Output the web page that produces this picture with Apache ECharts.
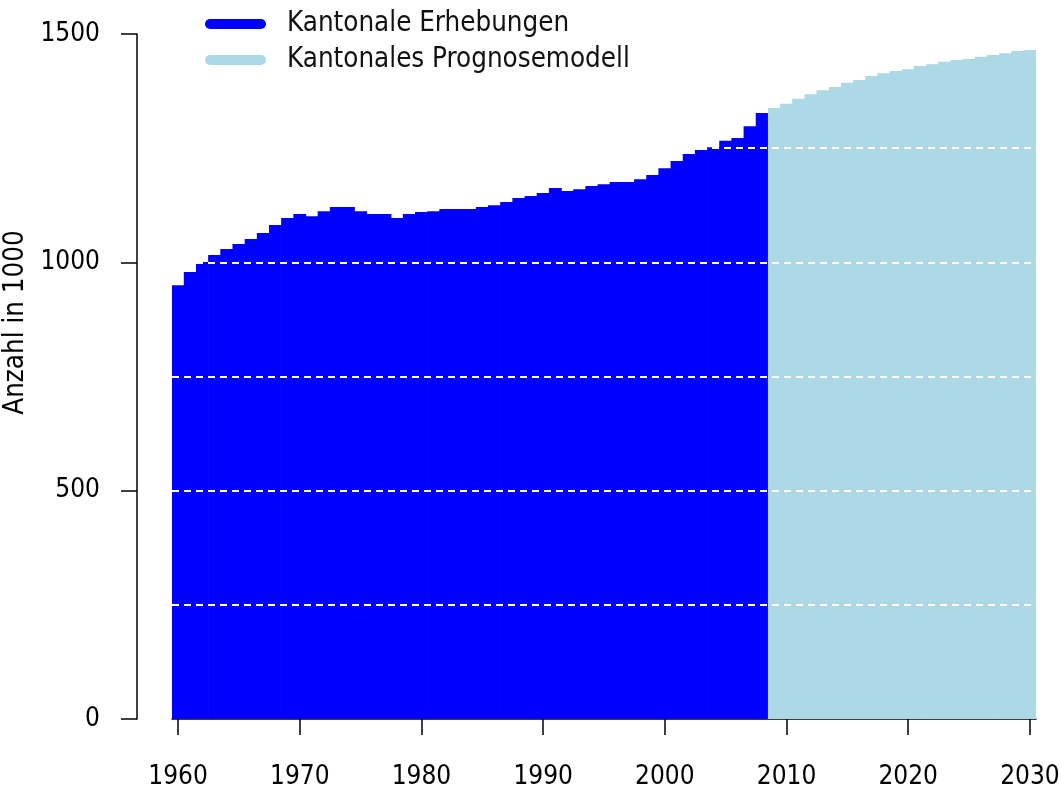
<!DOCTYPE html>
<html>
<head>
    <meta charset="utf-8" />
    <script src="https://cdn.jsdelivr.net/npm/echarts@6/dist/echarts.min.js"></script>
    <style>
        html, body { margin: 0; padding: 0; background: #fff; }
        #chart { width: 1061px; height: 790px; }
    </style>
</head>
<body>
<div id="chart"></div>
<script type="text/javascript">
    // Jahre (Kategorien)
    var years = ['1960', '1961', '1962', '1963', '1964', '1965', '1966', '1967', '1968', '1969',
        '1970', '1971', '1972', '1973', '1974', '1975', '1976', '1977', '1978', '1979',
        '1980', '1981', '1982', '1983', '1984', '1985', '1986', '1987', '1988', '1989',
        '1990', '1991', '1992', '1993', '1994', '1995', '1996', '1997', '1998', '1999',
        '2000', '2001', '2002', '2003', '2004', '2005', '2006', '2007', '2008', '2009',
        '2010', '2011', '2012', '2013', '2014', '2015', '2016', '2017', '2018', '2019',
        '2020', '2021', '2022', '2023', '2024', '2025', '2026', '2027', '2028', '2029', '2030'];

    // Kantonale Erhebungen 1960-2008 (in 1000)
    var erhebungen = [950, 979, 1001, 1016, 1029, 1040, 1051, 1064, 1082, 1097,
        1106, 1101, 1112, 1121, 1121, 1112, 1106, 1106, 1097, 1106,
        1110, 1112, 1117, 1117, 1117, 1121, 1125, 1132, 1141, 1145,
        1152, 1163, 1156, 1160, 1167, 1171, 1176, 1176, 1182, 1191,
        1206, 1222, 1237, 1246, 1252, 1266, 1272, 1298, 1327];

    // Kantonales Prognosemodell 2009-2030 (in 1000)
    var prognose = [1338, 1347, 1358, 1368, 1377, 1384, 1393, 1399, 1408, 1414,
        1419, 1423, 1430, 1434, 1439, 1443, 1445, 1450, 1454, 1458, 1463, 1465];

    var yTicks = [0, 500, 1000, 1500];
    var dashedLevels = [250, 500, 750, 1000, 1250];

    var names = ['Kantonale Erhebungen', 'Kantonales Prognosemodell'];

    // daten auf die ganze jahresachse legen
    var dataErh = [];
    var dataProg = [];
    for (var i = 0; i < years.length; i++) {
        dataErh.push(i < erhebungen.length ? erhebungen[i] : '-');
        dataProg.push(i >= erhebungen.length ? prognose[i - erhebungen.length] : '-');
    }

    var fontName = '"DejaVu Sans Condensed", "DejaVu Sans"';
    var capsule = 'path://M5,0 L56,0 A5,5 0 0 1 56,10 L5,10 A5,5 0 0 1 5,0 Z';

    var chart = echarts.init(document.getElementById('chart'));
    var option = {
        animation: false,
        backgroundColor: '#ffffff',
        textStyle: { fontFamily: fontName },
        legend: {
            orient: 'vertical',
            left: 205,
            top: 10,
            padding: 0,
            itemWidth: 61,
            itemHeight: 10,
            itemGap: 8,
            data: [
                { name: names[0], icon: capsule },
                { name: names[1], icon: capsule }
            ],
            textStyle: {
                fontFamily: fontName,
                fontSize: 27.5,
                color: '#111',
                padding: [0, 0, 0, 16]
            }
        },
        grid: {
            left: 172,
            right: 25,
            top: 34,
            bottom: 71,
            outerBoundsMode: 'none'
        },
        xAxis: {
            type: 'category',
            data: years,
            boundaryGap: true,
            axisLine: { show: true, lineStyle: { color: '#000', width: 1.5 } },
            axisTick: {
                show: true,
                alignWithLabel: true,
                length: 16,
                interval: function (idx) { return idx % 10 === 0; },
                lineStyle: { color: '#000', width: 1.5 }
            },
            axisLabel: {
                interval: function (idx) { return idx % 10 === 0; },
                margin: 45,
                fontFamily: fontName,
                fontSize: 26,
                color: '#000'
            },
            splitLine: { show: false }
        },
        yAxis: {
            type: 'value',
            min: 0,
            max: 1500,
            interval: 500,
            offset: 35,
            name: 'Anzahl in 1000',
            nameLocation: 'middle',
            nameGap: 87,
            nameRotate: 90,
            nameTextStyle: {
                fontFamily: fontName,
                fontSize: 27.5,
                color: '#000',
                padding: [0, 0, 0, 108]
            },
            axisLine: { show: true, lineStyle: { color: '#000', width: 1.5 } },
            axisTick: { show: true, length: 16, lineStyle: { color: '#000', width: 1.5 } },
            axisLabel: {
                margin: 37,
                fontFamily: fontName,
                fontSize: 26,
                color: '#000',
                formatter: function (v) { return yTicks.indexOf(v) >= 0 ? String(v) : ''; }
            },
            splitLine: { show: false }
        },
        series: [
            {
                name: names[0],
                type: 'bar',
                stack: 'total',
                barWidth: '106%',
                itemStyle: { color: '#0000ff' },
                data: dataErh
            },
            {
                name: names[1],
                type: 'bar',
                stack: 'total',
                barWidth: '106%',
                itemStyle: { color: '#add8e6' },
                data: dataProg
            },
            {
                // nur fuer die gestrichelten hilfslinien ueber den balken
                name: 'raster',
                type: 'line',
                z: 10,
                data: [],
                markLine: {
                    silent: true,
                    z: 10,
                    symbol: ['none', 'none'],
                    label: { show: false },
                    lineStyle: { color: '#ffffff', type: [7, 5], width: 2 },
                    data: dashedLevels.map(function (v) { return { yAxis: v }; })
                }
            }
        ]
    };
    chart.setOption(option);
</script>
</body>
</html>
